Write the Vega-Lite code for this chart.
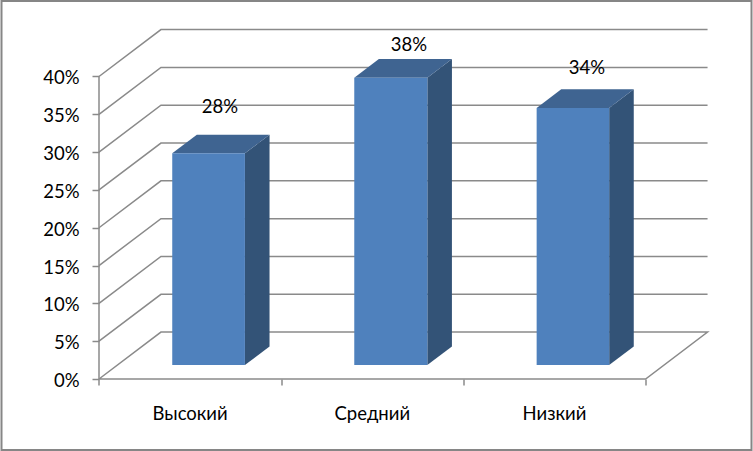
{"$schema":"https://vega.github.io/schema/vega-lite/v6.json","width":750,"height":449,"autosize":"none","padding":{"left":1.5,"top":1,"right":1.5,"bottom":1},"background":"white","config":{"view":{"stroke":"#868686","strokeWidth":2},"font":"Lato"},
"datasets":{
"grid":[
{"id":"g0","s":1,"u":0,"v":0},{"id":"g0","s":2,"u":0.34,"v":6.2},{"id":"g0","s":3,"u":3.34,"v":6.2},{"id":"g0","s":4,"u":3,"v":0},{"id":"g0","s":5,"u":0,"v":0},
{"id":"g5","s":1,"u":0,"v":5},{"id":"g5","s":2,"u":0.34,"v":11.2},{"id":"g5","s":3,"u":3.34,"v":11.2},
{"id":"g10","s":1,"u":0,"v":10},{"id":"g10","s":2,"u":0.34,"v":16.2},{"id":"g10","s":3,"u":3.34,"v":16.2},
{"id":"g15","s":1,"u":0,"v":15},{"id":"g15","s":2,"u":0.34,"v":21.2},{"id":"g15","s":3,"u":3.34,"v":21.2},
{"id":"g20","s":1,"u":0,"v":20},{"id":"g20","s":2,"u":0.34,"v":26.2},{"id":"g20","s":3,"u":3.34,"v":26.2},
{"id":"g25","s":1,"u":0,"v":25},{"id":"g25","s":2,"u":0.34,"v":31.2},{"id":"g25","s":3,"u":3.34,"v":31.2},
{"id":"g30","s":1,"u":0,"v":30},{"id":"g30","s":2,"u":0.34,"v":36.2},{"id":"g30","s":3,"u":3.34,"v":36.2},
{"id":"g35","s":1,"u":0,"v":35},{"id":"g35","s":2,"u":0.34,"v":41.2},{"id":"g35","s":3,"u":3.34,"v":41.2},
{"id":"g40","s":1,"u":0,"v":40},{"id":"g40","s":2,"u":0.34,"v":46.2},{"id":"g40","s":3,"u":3.34,"v":46.2},
{"id":"axis","s":1,"u":0,"v":0},{"id":"axis","s":2,"u":0,"v":40}],
"bars":[
{"name":"Высокий","value":0.28,"u0":0.402,"u1":0.801,"base":1.85,"top":29.85,"lu":0.664,"lv":36.0,"cu":0.5,"cv":-4.6},
{"name":"Средний","value":0.38,"u0":1.401,"u1":1.802,"base":1.85,"top":39.85,"lu":1.701,"lv":44.2,"cu":1.5,"cv":-4.6},
{"name":"Низкий","value":0.34,"u0":2.402,"u1":2.8,"base":1.85,"top":35.85,"lu":2.678,"lv":41.1,"cu":2.5,"cv":-4.6}],
"sides":[
{"name":"Высокий","u":0.801,"lo":1.85,"hi":29.85},{"name":"Высокий","u":0.936,"lo":4.3,"hi":32.3},
{"name":"Средний","u":1.802,"lo":1.85,"hi":39.85},{"name":"Средний","u":1.937,"lo":4.3,"hi":42.3},
{"name":"Низкий","u":2.8,"lo":1.85,"hi":35.85},{"name":"Низкий","u":2.935,"lo":4.3,"hi":38.3}],
"tops":[
{"name":"Высокий","v":29.85,"a":0.402,"b":0.801},{"name":"Высокий","v":32.3,"a":0.537,"b":0.936},
{"name":"Средний","v":39.85,"a":1.401,"b":1.802},{"name":"Средний","v":42.3,"a":1.536,"b":1.937},
{"name":"Низкий","v":35.85,"a":2.402,"b":2.8},{"name":"Низкий","v":38.3,"a":2.537,"b":2.935}]
},
"layer":[
{"data":{"name":"grid"},"mark":{"type":"line","color":"#8a8a8a","strokeWidth":1.5,"interpolate":"linear"},
"encoding":{
"x":{"field":"u","type":"quantitative","scale":{"domain":[-0.5351,3.5812],"nice":false,"zero":false},
"axis":{"orient":"bottom","offset":-71,"values":[0,1,2,3],"labels":false,"grid":false,"domain":false,"title":null,"tickColor":"#8a8a8a","tickWidth":1.5,"tickSize":6}},
"y":{"field":"v","type":"quantitative","scale":{"domain":[-9.388,49.983],"nice":false,"zero":false},
"axis":{"orient":"left","offset":-97.5,"values":[0,5,10,15,20,25,30,35,40],"labelExpr":"datum.value + '%'","grid":false,"domain":false,"title":null,"tickColor":"#8a8a8a","tickWidth":1.5,"tickSize":7,"labelFont":"Lato","labelFontSize":18.5,"labelColor":"#000000","labelPadding":13,"labelOffset":1.5}},
"detail":{"field":"id"},"order":{"field":"s","type":"quantitative"}}},
{"data":{"name":"sides"},"mark":{"type":"area","color":"#335377","orient":"vertical"},
"encoding":{"x":{"field":"u","type":"quantitative"},"y":{"field":"lo","type":"quantitative"},"y2":{"field":"hi"},"detail":{"field":"name"}}},
{"data":{"name":"tops"},"mark":{"type":"area","color":"#3F6491","orient":"horizontal"},
"encoding":{"y":{"field":"v","type":"quantitative"},"x":{"field":"a","type":"quantitative"},"x2":{"field":"b"},"detail":{"field":"name"}}},
{"data":{"name":"bars"},"mark":{"type":"rect","color":"#4F81BD"},
"encoding":{"x":{"field":"u0","type":"quantitative"},"x2":{"field":"u1"},"y":{"field":"base","type":"quantitative"},"y2":{"field":"top"}}},
{"data":{"name":"bars"},"mark":{"type":"text","font":"Lato","fontSize":18.5,"color":"#000000"},
"encoding":{"x":{"field":"lu","type":"quantitative"},"y":{"field":"lv","type":"quantitative"},"text":{"field":"value","type":"quantitative","format":".0%"}}},
{"data":{"name":"bars"},"mark":{"type":"text","font":"Lato","fontSize":18.5,"color":"#000000"},
"encoding":{"x":{"field":"cu","type":"quantitative"},"y":{"field":"cv","type":"quantitative"},"text":{"field":"name"}}}
]}
